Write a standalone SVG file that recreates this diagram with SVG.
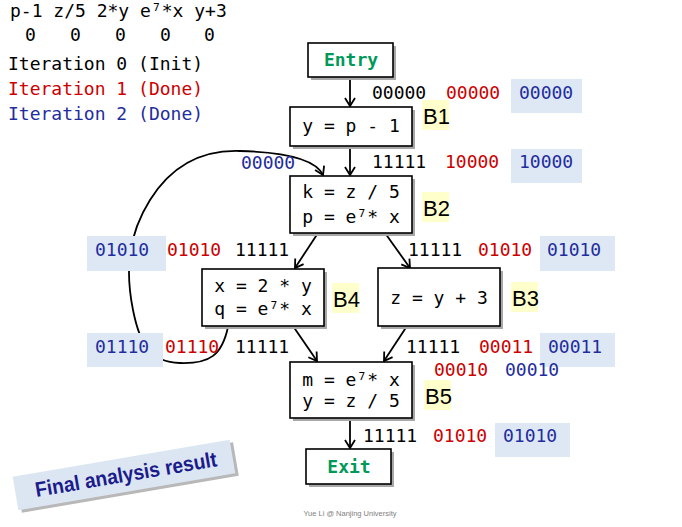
<svg xmlns="http://www.w3.org/2000/svg" width="682" height="527" viewBox="0 0 682 527">
<style>
.mono{font-family:"DejaVu Sans Mono","Liberation Mono",monospace;font-size:18px}
.blk{fill:#000}
.red{fill:#cc0000}
.blu{fill:#1f2d9e}
.box{fill:#fff;stroke:#000;stroke-width:1.6}
.shd{fill:#a8a8a8}
.bbg{fill:#dee8f4}
.ybg{fill:#ffffcc}
.bl{font-family:"Liberation Sans","Open Sans",sans-serif;font-size:22px;fill:#000}
.grn{fill:#00995a;font-weight:bold}
.con{fill:none;stroke:#000;stroke-width:1.8}
</style>
<defs>
<marker id="arr" markerUnits="userSpaceOnUse" viewBox="0 0 12 12" markerWidth="12" markerHeight="12" refX="9" refY="6" orient="auto">
<path d="M1,1 L9,6 L1,11" fill="none" stroke="#000" stroke-width="1.8"/>
</marker>
</defs>
<rect width="682" height="527" fill="#fff"/>

<g id="legend" class="mono">
<text x="10" y="17" class="blk">p-1 z/5 2*y e⁷*x y+3</text>
<text x="25" y="41" class="blk">0</text>
<text x="70" y="41" class="blk">0</text>
<text x="115" y="41" class="blk">0</text>
<text x="160" y="41" class="blk">0</text>
<text x="204" y="41" class="blk">0</text>
<text x="8" y="70" class="blk">Iteration 0 (Init)</text>
<text x="8" y="95" class="red">Iteration 1 (Done)</text>
<text x="8" y="120" class="blu">Iteration 2 (Done)</text>
</g>

<g id="connectors">
<path class="con" d="M350,77 L350,106" marker-end="url(#arr)"/>
<path class="con" d="M350,146 L350,175" marker-end="url(#arr)"/>
<path class="con" d="M318,233 L295,268" marker-end="url(#arr)"/>
<path class="con" d="M385,233 L410,268" marker-end="url(#arr)"/>
<path class="con" d="M293,326 L317,361" marker-end="url(#arr)"/>
<path class="con" d="M407,326 L384,361" marker-end="url(#arr)"/>
<path class="con" d="M350,418 L350,448" marker-end="url(#arr)"/>
<path class="con" d="M228,327 C222,355 210,364 180,363 C150,362 140,345 133,310 C125,270 128,235 150,200 C175,160 210,150 240,151 C280,152 315,158 323,175" marker-end="url(#arr)"/>
</g>

<g id="entry">
<rect class="shd" x="311" y="46" width="85" height="34"/>
<rect class="box" x="308" y="43" width="85" height="34"/>
<text class="mono grn" x="351" y="66" text-anchor="middle">Entry</text>
</g>
<g id="B1">
<rect class="shd" x="293" y="110" width="122" height="39"/>
<rect class="box" x="290" y="107" width="122" height="39"/>
<text class="mono blk" x="351" y="132" text-anchor="middle">y = p - 1</text>
<rect class="ybg" x="422" y="100" width="27" height="30"/>
<text class="bl" x="423" y="124">B1</text>
</g>
<g id="B2">
<rect class="shd" x="293" y="179" width="122" height="57"/>
<rect class="box" x="290" y="176" width="122" height="57"/>
<text class="mono blk" x="351" y="198" text-anchor="middle">k = z / 5</text>
<text class="mono blk" x="351" y="223" text-anchor="middle">p = e⁷* x</text>
<rect class="ybg" x="422" y="192" width="27" height="30"/>
<text class="bl" x="423" y="216">B2</text>
</g>
<g id="B4">
<rect class="shd" x="205" y="272" width="122" height="57"/>
<rect class="box" x="202" y="269" width="122" height="57"/>
<text class="mono blk" x="263" y="292" text-anchor="middle">x = 2 * y</text>
<text class="mono blk" x="263" y="315" text-anchor="middle">q = e⁷* x</text>
<rect class="ybg" x="332" y="283" width="27" height="30"/>
<text class="bl" x="333" y="307">B4</text>
</g>
<g id="B3">
<rect class="shd" x="381" y="271" width="122" height="58"/>
<rect class="box" x="378" y="268" width="122" height="58"/>
<text class="mono blk" x="439" y="304" text-anchor="middle">z = y + 3</text>
<rect class="ybg" x="511" y="282" width="27" height="30"/>
<text class="bl" x="512" y="306">B3</text>
</g>
<g id="B5">
<rect class="shd" x="293" y="365" width="122" height="56"/>
<rect class="box" x="290" y="362" width="122" height="56"/>
<text class="mono blk" x="351" y="386" text-anchor="middle">m = e⁷* x</text>
<text class="mono blk" x="351" y="407" text-anchor="middle">y = z / 5</text>
<rect class="ybg" x="424" y="380" width="27" height="30"/>
<text class="bl" x="425" y="404">B5</text>
</g>
<g id="exit">
<rect class="shd" x="309" y="452" width="85" height="35"/>
<rect class="box" x="306" y="449" width="85" height="35"/>
<text class="mono grn" x="349" y="473" text-anchor="middle">Exit</text>
</g>

<g id="facts" class="mono">
<text x="372" y="99" class="blk">00000</text>
<text x="446" y="99" class="red">00000</text>
<rect class="bbg" x="511" y="79" width="71" height="34"/>
<text x="519" y="99" class="blu">00000</text>

<text x="372" y="168" class="blk">11111</text>
<text x="445" y="168" class="red">10000</text>
<rect class="bbg" x="511" y="149" width="71" height="34"/>
<text x="519" y="168" class="blu">10000</text>

<text x="241" y="169" class="blu">00000</text>

<rect class="bbg" x="87" y="236" width="79" height="35"/>
<text x="95" y="256" class="blu">01010</text>
<text x="167" y="256" class="red">01010</text>
<text x="235" y="256" class="blk">11111</text>

<text x="408" y="256" class="blk">11111</text>
<text x="478" y="256" class="red">01010</text>
<rect class="bbg" x="540" y="236" width="75" height="35"/>
<text x="547" y="256" class="blu">01010</text>

<rect class="bbg" x="87" y="333" width="76" height="34"/>
<text x="95" y="353" class="blu">01110</text>
<text x="165" y="353" class="red">01110</text>
<text x="235" y="353" class="blk">11111</text>

<text x="406" y="353" class="blk">11111</text>
<text x="479" y="353" class="red">00011</text>
<rect class="bbg" x="540" y="333" width="75" height="34"/>
<text x="548" y="353" class="blu">00011</text>

<text x="434" y="376" class="red">00010</text>
<text x="505" y="376" class="blu">00010</text>

<text x="363" y="442" class="blk">11111</text>
<text x="433" y="442" class="red">01010</text>
<rect class="bbg" x="495" y="423" width="75" height="34"/>
<text x="503" y="442" class="blu">01010</text>
</g>

<g id="note" transform="translate(124,475) rotate(-9.7)">
<rect x="-107" y="-14" width="220" height="34" fill="#b8b8b8"/>
<rect x="-110" y="-17" width="220" height="34" fill="#dce6f2"/>
<text x="2" y="7" text-anchor="middle" font-family="'Liberation Sans','Open Sans',sans-serif" font-size="21" font-weight="bold" fill="#1b1b8c" textLength="184" lengthAdjust="spacingAndGlyphs">Final analysis result</text>
</g>

<text x="350" y="516" text-anchor="middle" font-family="'Liberation Sans',sans-serif" font-size="7.5" fill="#808080">Yue Li @ Nanjing University</text>
</svg>
